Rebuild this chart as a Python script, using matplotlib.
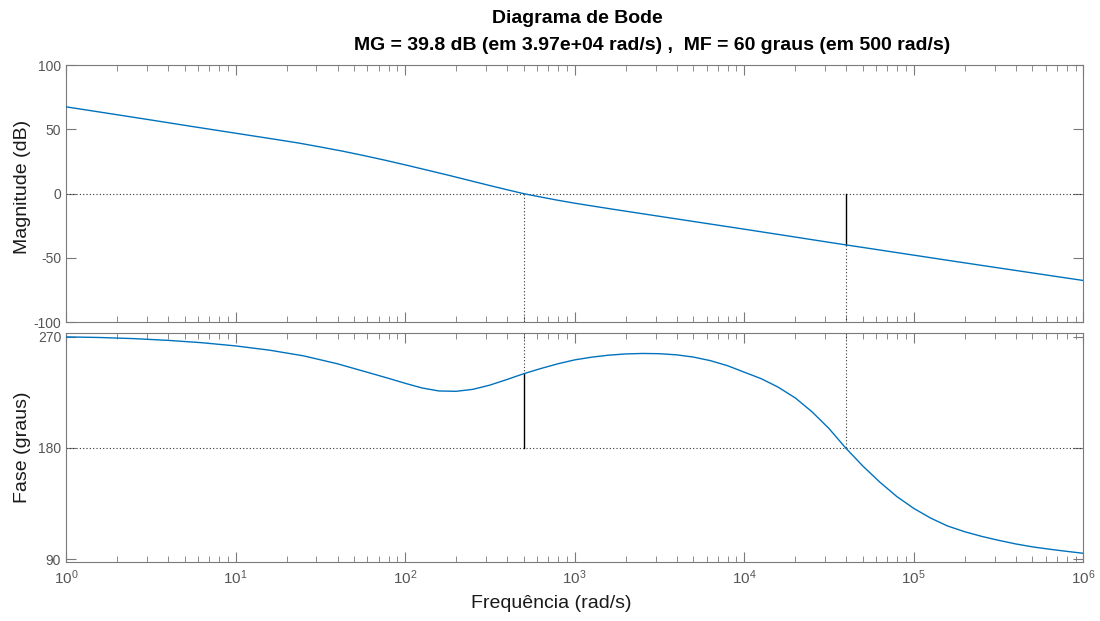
import matplotlib
matplotlib.use("Agg")
import matplotlib.pyplot as plt
import numpy as np

plt.rcParams['font.family'] = ['Liberation Sans', 'DejaVu Sans']
plt.rcParams['axes.unicode_minus'] = False
plt.rcParams['mathtext.fontset'] = 'custom'
plt.rcParams['mathtext.rm'] = 'Liberation Sans'
plt.rcParams['mathtext.default'] = 'rm'

# Diagrama de Bode com margens
w_mag = [1, 1.78, 3.16, 5.62, 10, 17.8, 23.7, 31.6, 42.2, 56.2, 75.0, 100, 133,
         178, 237, 316, 398, 500, 631, 794, 1000, 1330, 1780, 3160, 5620, 1e4,
         1.78e4, 3.16e4, 3.97e4, 5.62e4, 1e5, 1.78e5, 3.16e5, 5.62e5, 1e6]
mag_db = [67.5, 62.4, 57.3, 52.1, 47.0, 41.9, 39.3, 36.3, 33.2, 29.8, 26.2, 22.4, 18.5,
          14.5, 10.4, 6.3, 3.1, 0.0, -2.6, -5.1, -7.4, -10.0, -12.6, -17.6, -22.6, -27.6,
          -32.7, -37.8, -39.8, -42.8, -47.8, -52.8, -57.7, -62.6, -67.5]

w_fase = [1, 1.58, 2.51, 3.98, 6.31, 10, 15.8, 25.1, 39.8, 63.1, 79.4, 100, 126,
          158, 200, 251, 316, 398, 500, 631, 794, 1000, 1259, 1585, 1995, 2512,
          3162, 3981, 5012, 6310, 7943, 1e4, 1.26e4, 1.58e4, 2e4, 2.51e4, 3.16e4,
          3.97e4, 5.01e4, 6.31e4, 7.94e4, 1e5, 1.26e5, 1.58e5, 2e5, 2.51e5,
          3.16e5, 3.98e5, 5.01e5, 6.31e5, 7.94e5, 1e6]
fase = [269.8, 269.3, 268.4, 267.0, 265.1, 262.5, 259.1, 254.5, 248.1, 240.3, 236.4,
        232.3, 228.5, 226.1, 225.8, 227.4, 230.8, 235.3, 240.0, 244.2, 248.0,
        251.2, 253.4, 255.0, 256.0, 256.4, 256.2, 255.3, 253.5, 250.6, 246.6, 241.3,
        236.0, 229.3, 220.5, 209.3, 195.8, 180.0, 165.4, 152.4, 140.8, 131.2, 123.3,
        117.0, 112.3, 108.6, 105.4, 102.5, 100.1, 98.2, 96.5, 94.9]

wcg = 3.97e4   # frequencia de cruzamento de fase
mg = -39.8     # magnitude em wcg
wcp = 500      # frequencia de cruzamento de ganho
fase_wcp = 240.0

azul = '#0072BD'
cinza = '#7a7a7a'
txt = '#555555'
pont = (0, (1, 2))

fig = plt.figure(figsize=(11, 6.21), dpi=100)
ax1 = fig.add_axes([0.06, 0.481, 0.9248, 0.4143])
ax2 = fig.add_axes([0.06, 0.0955, 0.9248, 0.3678])

# Magnitude
ax1.semilogx(w_mag, mag_db, color=azul, lw=1.0, zorder=3)
ax1.axhline(0, color='#333333', ls=pont, lw=0.8)
ax1.plot([wcp, wcp], [0, -100], color='#333333', ls=pont, lw=0.8)
ax1.plot([wcg, wcg], [0, mg], color='black', lw=1.0)
ax1.plot([wcg, wcg], [mg, -100], color='#333333', ls=pont, lw=0.8)
ax1.set_ylim(-100, 100)
ax1.set_yticks([-100, -50, 0, 50, 100])
ax1.set_ylabel('Magnitude (dB)', fontsize=14, color='#1a1a1a')
ax1.yaxis.set_label_coords(-0.034, 0.526)
ax1.tick_params(labelbottom=False)

# Fase
ax2.semilogx(w_fase, fase, color=azul, lw=1.0, zorder=3)
ax2.axhline(180, color='#333333', ls=pont, lw=0.8)
ax2.plot([wcp, wcp], [273, fase_wcp], color='#333333', ls=pont, lw=0.8)
ax2.plot([wcp, wcp], [fase_wcp, 180], color='black', lw=1.0)
ax2.plot([wcg, wcg], [273, 180], color='#333333', ls=pont, lw=0.8)
ax2.set_ylim(88.1, 272.7)
ax2.set_yticks([90, 180, 270])
ax2.set_ylabel('Fase (graus)', fontsize=14, color='#1a1a1a')
ax2.yaxis.set_label_coords(-0.034, 0.5)
ax2.set_xlabel('Frequência (rad/s)', fontsize=14, color='#1a1a1a')
ax2.xaxis.set_label_coords(0.477, -0.146)

for ax in (ax1, ax2):
    ax.set_xlim(1, 1e6)
    ax.tick_params(which='both', direction='in', top=True, right=True,
                   color=cinza, labelcolor=txt)
    ax.tick_params(axis='y', labelsize=10)
    ax.tick_params(axis='x', labelsize=11, pad=5)
    ax.tick_params(which='major', length=7)
    ax.tick_params(which='minor', length=4.5)
    for s in ax.spines.values():
        s.set_color(cinza)
        s.set_linewidth(0.8)

fig.text(0.5245, 0.971, 'Diagrama de Bode', ha='center', va='center',
         fontsize=14, fontweight='bold')
fig.text(0.593, 0.926, 'MG = 39.8 dB (em 3.97e+04 rad/s) ,  MF = 60 graus (em 500 rad/s)',
         ha='center', va='center', fontsize=14, fontweight='bold')

plt.savefig('out.png', dpi=100)
plt.close()
